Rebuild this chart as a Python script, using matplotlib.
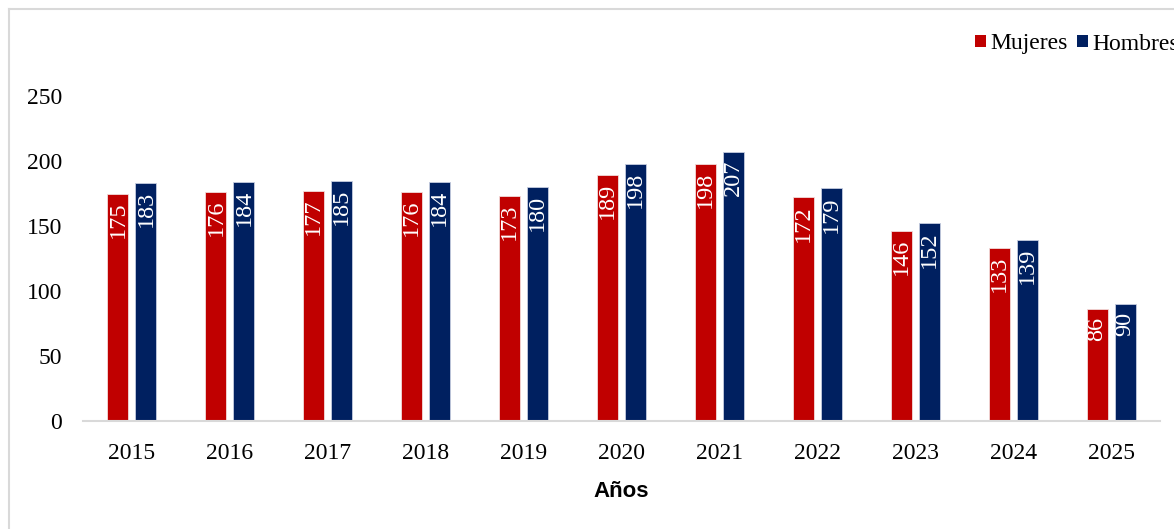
import numpy as np
import matplotlib.pyplot as plt
from matplotlib.lines import Line2D
from matplotlib.patches import Patch

years = ['2015', '2016', '2017', '2018', '2019', '2020', '2021', '2022', '2023', '2024', '2025']
mujeres = [175, 176, 177, 176, 173, 189, 198, 172, 146, 133, 86]
hombres = [183, 184, 185, 184, 180, 198, 207, 179, 152, 139, 90]

RED = '#C00000'
BLUE = '#002060'
GREY = '#D9D9D9'

plt.rcParams['font.family'] = ['Liberation Serif', 'DejaVu Serif']

fig = plt.figure(figsize=(11.74, 5.29), dpi=100)
W, H = 1174, 529
# axes box in pixel coords: x 83..1160, y(bottom) 421 ... top 96 (=250)
ax = fig.add_axes([83 / W, (H - 421) / H, (1160 - 83) / W, 325 / H])

x = np.arange(len(years))
bw = 0.215
off = 0.143
b1 = ax.bar(x - off, mujeres, bw, color=RED, edgecolor='#F2DCDB', linewidth=0.6)
b2 = ax.bar(x + off, hombres, bw, color=BLUE, edgecolor='#C5CCE0', linewidth=0.6)

for bars, vals in ((b1, mujeres), (b2, hombres)):
    for rect, v in zip(bars, vals):
        ax.text(rect.get_x() + rect.get_width() / 2, v - 6, str(v),
                rotation=90, ha='center', va='top', color='white', fontsize=17.5)

ax.set_xlim(-0.5, len(years) - 0.5)
ax.set_ylim(0, 250)
ax.set_yticks(range(0, 251, 50))
ax.set_xticks(x)
ax.set_xticklabels(years)
ax.tick_params(axis='both', length=0, labelsize=17, colors='black')
ax.tick_params(axis='y', pad=15)
ax.tick_params(axis='x', pad=16)
for s in ('top', 'right', 'left'):
    ax.spines[s].set_visible(False)
ax.spines['bottom'].set_color(GREY)
ax.spines['bottom'].set_linewidth(1.5)

ax.set_xlabel('Años', fontsize=16, fontweight='bold', family=['Liberation Sans', 'DejaVu Sans'],
              labelpad=12)

# outer frame lines (left and top)
fig.add_artist(Line2D([9 / W, 9 / W], [0, 1 - 9 / H], color=GREY, lw=1.5, transform=fig.transFigure))
fig.add_artist(Line2D([9 / W, 1], [1 - 9 / H, 1 - 9 / H], color=GREY, lw=1.5, transform=fig.transFigure))

handles = [Patch(facecolor=RED, label='Mujeres'), Patch(facecolor=BLUE, label='Hombres')]
fig.legend(handles=handles, loc='center left', bbox_to_anchor=(975 / W, 1 - 44 / H),
           ncol=2, frameon=False, fontsize=17, handlelength=0.45, handleheight=0.45,
           handletextpad=0.2, columnspacing=0.4, borderaxespad=0, borderpad=0)

fig.savefig('out.png', dpi=100)
